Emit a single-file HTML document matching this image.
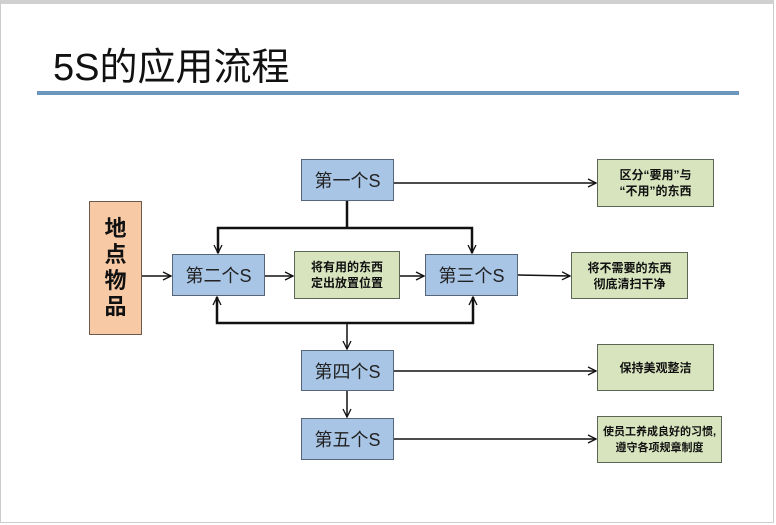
<!DOCTYPE html>
<html><head><meta charset="utf-8"><style>
body{margin:0;width:776px;height:525px;background:#fff;overflow:hidden;font-family:"Liberation Sans","Noto Sans CJK SC",sans-serif;}
.frame{position:absolute;left:0;top:0;width:774px;height:523px;border:1px solid #ccc;border-top:4px solid #d0d0d0;box-sizing:border-box}
.t{position:absolute;left:53px;top:36px;font-size:38px;color:#111;}
.line{position:absolute;left:37px;top:91px;width:702px;height:4px;background:#6b97bd}
.b{position:absolute;box-sizing:border-box;border:1.5px solid #56657a;background:#a8c5e6;display:flex;align-items:center;justify-content:center;font-size:18px;color:#222}
.g{position:absolute;box-sizing:border-box;border:1.5px solid #5b6656;background:#d7e4bd;display:flex;align-items:center;justify-content:center;text-align:center;font-size:12px;font-weight:bold;color:#111;line-height:16px}
</style></head><body>
<div class="frame"></div>
<div class="t">5S的应用流程</div>
<div class="line"></div>
<svg width="776" height="525" style="position:absolute;left:0;top:0">
<defs><marker id="a" markerWidth="10" markerHeight="10" refX="9" refY="5" orient="auto" markerUnits="userSpaceOnUse"><path d="M1,1 L9,5 L1,9" fill="none" stroke="#111" stroke-width="1.3"/></marker></defs>
<g stroke="#111" stroke-width="1.5" fill="none">
<line x1="142" y1="276" x2="171" y2="276" marker-end="url(#a)"/>
<line x1="265" y1="276" x2="293" y2="276" marker-end="url(#a)"/>
<line x1="400" y1="276" x2="424" y2="276" marker-end="url(#a)"/>
<line x1="518" y1="275" x2="570" y2="276" marker-end="url(#a)"/>
<line x1="394" y1="183" x2="596" y2="183" marker-end="url(#a)"/>
<line x1="394" y1="371" x2="596" y2="371" marker-end="url(#a)"/>
<line x1="394" y1="439" x2="596" y2="439" marker-end="url(#a)"/>
<line x1="347" y1="201" x2="347" y2="228" stroke-width="2.5"/>
<polyline points="218,253 218,228 472,228 472,253" stroke-width="2.5" fill="none"/>
<line x1="218" y1="245" x2="218" y2="253" marker-end="url(#a)"/>
<line x1="472" y1="245" x2="472" y2="253" marker-end="url(#a)"/>
<polyline points="217,297 217,323 473,323 473,297" stroke-width="2.5" fill="none"/>
<line x1="217" y1="305" x2="217" y2="297" marker-end="url(#a)"/>
<line x1="473" y1="305" x2="473" y2="297" marker-end="url(#a)"/>
<line x1="347" y1="323" x2="347" y2="349" marker-end="url(#a)"/>
<line x1="347" y1="391" x2="347" y2="417" marker-end="url(#a)"/>
</g></svg>
<div style="position:absolute;left:89px;top:201px;width:53px;height:134px;box-sizing:border-box;border:1.5px solid #6b5a4a;background:#f8c9a5;font-size:22px;font-weight:bold;line-height:26px;text-align:center;padding-top:14px;color:#111">地<br>点<br>物<br>品</div>
<div class="b" style="left:301px;top:159px;width:93px;height:42px">第一个S</div>
<div class="b" style="left:172px;top:254px;width:93px;height:42px">第二个S</div>
<div class="g" style="left:294px;top:251px;width:106px;height:48px">将有用的东西<br>定出放置位置</div>
<div class="b" style="left:425px;top:254px;width:93px;height:42px">第三个S</div>
<div class="b" style="left:301px;top:350px;width:93px;height:41px">第四个S</div>
<div class="b" style="left:301px;top:418px;width:93px;height:42px">第五个S</div>
<div class="g" style="left:597px;top:159px;width:117px;height:48px">区分“要用”与<br>“不用”的东西</div>
<div class="g" style="left:571px;top:252px;width:117px;height:47px">将不需要的东西<br>彻底清扫干净</div>
<div class="g" style="left:597px;top:344px;width:117px;height:47px">保持美观整洁</div>
<div class="g" style="left:597px;top:416px;width:125px;height:47px;font-size:11px">使员工养成良好的习惯,<br>遵守各项规章制度</div>
</body></html>
